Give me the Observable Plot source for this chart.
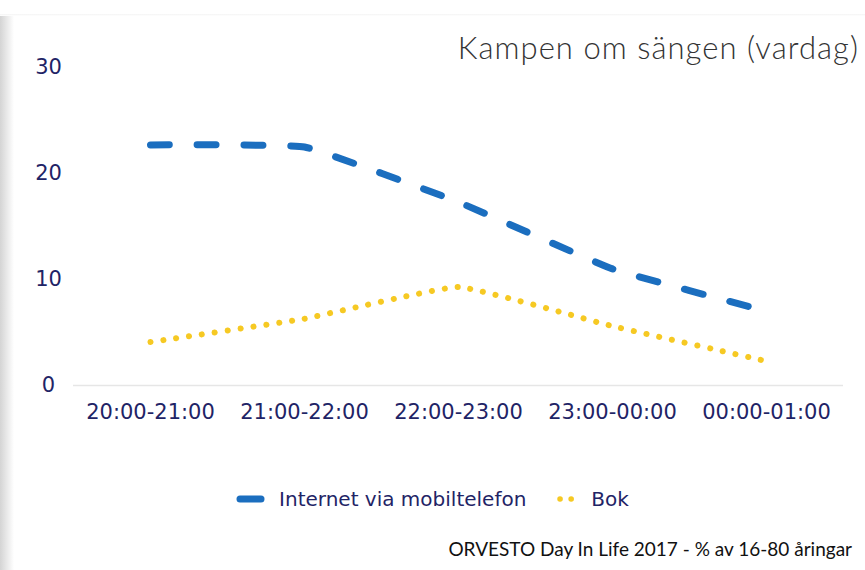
<!DOCTYPE html>
<html><head><meta charset="utf-8">
<script src="https://cdn.jsdelivr.net/npm/d3@7"></script>
<script src="https://cdn.jsdelivr.net/npm/@observablehq/plot@0.6"></script>
<style>
html,body{margin:0;padding:0;background:#fff;}
#wrap{position:relative;width:865px;height:570px;overflow:hidden;background:#fff;}
#shadow{position:absolute;left:0;top:15px;width:14px;height:555px;background:linear-gradient(to right,#d4d4d4,#f2f2f2 70%,#fff);}
#topline{position:absolute;left:0;top:14px;width:865px;height:2px;background:linear-gradient(to bottom,#f4f4f4,#fff);}
#chart{position:absolute;left:0;top:0;}
#title{position:absolute;right:6px;top:28px;font-family:Lato,sans-serif;font-weight:300;font-size:31px;color:#333;letter-spacing:1.05px;white-space:nowrap;}
#legend{position:absolute;left:0;top:487px;width:865px;display:flex;justify-content:center;align-items:center;font-family:"DejaVu Sans",sans-serif;font-size:20px;color:#1f2466;}
#legend .item{display:flex;align-items:center;}
#caption{position:absolute;right:13px;top:537px;font-family:Lato,sans-serif;font-size:19px;color:#111;letter-spacing:0px;white-space:nowrap;}
</style></head>
<body><div id="wrap"><div id="shadow"></div><div id="topline"></div><div id="chart"></div>
<div id="title"></div><div id="legend"></div><div id="caption"></div></div>
<script>
const categories = ["20:00-21:00","21:00-22:00","22:00-23:00","23:00-00:00","00:00-01:00"];
const internetValues = [22.7, 22.5, 17.3, 11.0, 7.0];
const bokValues = [4.1, 6.3, 9.3, 5.6, 2.3];
const seriesNames = ["Internet via mobiltelefon", "Bok"];
const yTicks = [0, 10, 20, 30];
const titleText = "Kampen om sängen (vardag)";
const captionText = "ORVESTO Day In Life 2017 - % av 16-80 åringar";

const internet = categories.map((c,i)=>({cat:c, v:internetValues[i]}));
const bok = categories.map((c,i)=>({cat:c, v:bokValues[i]}));

const blue = "#1b6ebf", yellow = "#f6c923", navy = "#1f2466";

const plot = Plot.plot({
  width: 865, height: 440,
  marginLeft: 73, marginRight: 22, marginTop: 67, marginBottom: 55,
  style: {fontFamily: "'DejaVu Sans', sans-serif", fontSize: "21px", color: navy, background: "transparent"},
  x: {type: "point", domain: categories, padding: 0.5, label: null},
  y: {domain: [0, 30], label: null},
  marks: [
    Plot.ruleY([0], {stroke: "#e6e6e6", strokeWidth: 1.5}),
    Plot.axisY({ticks: yTicks, tickSize: 0, tickPadding: 25, textAnchor: "middle", label: null, fill: navy, fontSize: 21}),
    Plot.axisX({tickSize: 0, tickPadding: 19, label: null, fill: navy, fontSize: 21}),
    Plot.line(bok, {x: "cat", y: "v", stroke: yellow, strokeWidth: 6, strokeDasharray: "0.1 12.9", strokeLinecap: "round", curve: "cardinal", tension: 0.7}),
    Plot.line(internet, {x: "cat", y: "v", stroke: blue, strokeWidth: 7, strokeDasharray: "19 27.7", strokeLinecap: "round", curve: "cardinal", tension: 0.7})
  ]
});
document.getElementById("chart").appendChild(plot);
document.getElementById("title").textContent = titleText;
document.getElementById("caption").textContent = captionText;

const legend = document.getElementById("legend");
const styles = [
  {stroke: blue, w: 7, dash: null},
  {stroke: yellow, w: 5.5, dash: "0.1 11"}
];
seriesNames.forEach((name, i) => {
  const item = document.createElement("div");
  item.className = "item";
  item.style.marginRight = i === 0 ? "30px" : "0";
  const s = styles[i];
  const svgNS = "http://www.w3.org/2000/svg";
  const svg = document.createElementNS(svgNS, "svg");
  svg.setAttribute("width", 32); svg.setAttribute("height", 14);
  const ln = document.createElementNS(svgNS, "line");
  ln.setAttribute("x1", 4); ln.setAttribute("x2", i === 0 ? 25 : 26);
  ln.setAttribute("y1", 7); ln.setAttribute("y2", 7);
  ln.setAttribute("stroke", s.stroke); ln.setAttribute("stroke-width", s.w);
  ln.setAttribute("stroke-linecap", "round");
  if (s.dash) ln.setAttribute("stroke-dasharray", s.dash);
  svg.appendChild(ln);
  svg.style.marginRight = i === 0 ? "11px" : "3px";
  item.appendChild(svg);
  const t = document.createElement("span");
  t.textContent = name;
  item.appendChild(t);
  legend.appendChild(item);
});
</script></body></html>
